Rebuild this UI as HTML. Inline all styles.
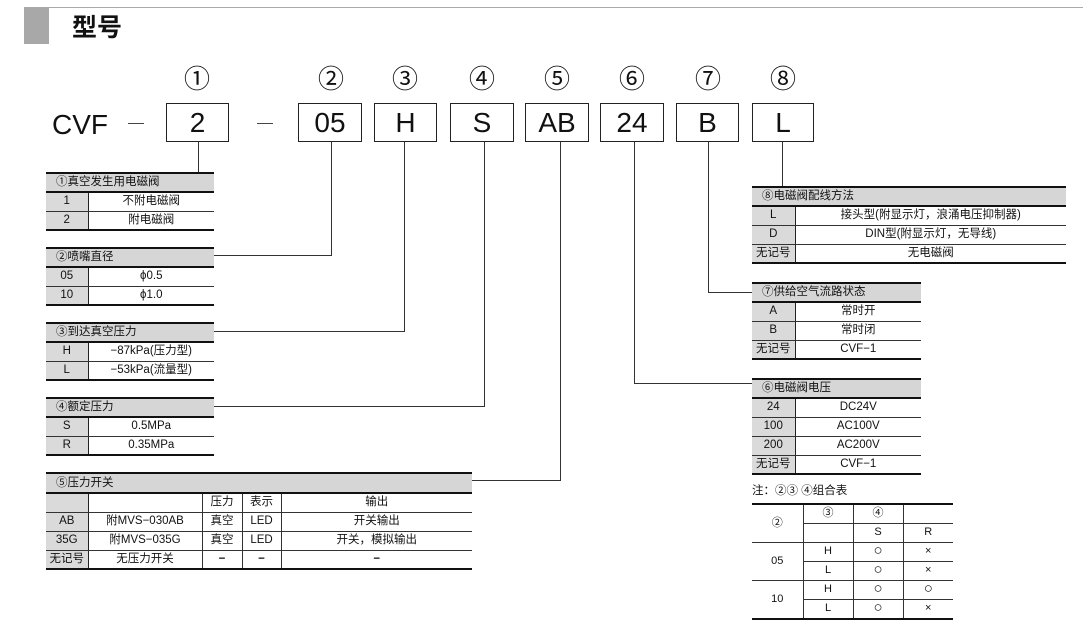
<!DOCTYPE html>
<html><head><meta charset="utf-8"><style>
*{margin:0;padding:0;box-sizing:border-box}
body{width:1083px;height:631px;background:#fff;position:relative;overflow:hidden;font-family:"Liberation Sans","Noto Sans CJK SC",sans-serif;color:#111}
.a{position:absolute}
.box{position:absolute;top:103px;height:39px;border:1.3px solid #222;font-size:28px;text-align:center;line-height:37px}
.c{position:absolute;top:64px;font-size:26px;text-align:center;width:40px;line-height:30px}
.v{position:absolute;width:1.3px;background:#333}
.h{position:absolute;height:1.3px;background:#333}
table{position:absolute;border-collapse:collapse;font-size:11.5px;table-layout:fixed}
td{height:19px;padding:0;text-align:center;border-bottom:1px solid #333;line-height:17px;white-space:nowrap}
tr.hd td{background:#d6d6d6;text-align:left;padding-left:10px;border-top:2.5px solid #111;border-bottom:2.5px solid #111;height:19px}
td.k{background:#dadada;border-right:1.3px solid #222}
tr.last td{border-bottom:2.5px solid #111}
.o{font-size:15px;line-height:16px}
b{font-weight:bold}
</style></head><body>
<div class="a" style="left:49px;top:7px;width:1034px;height:1px;background:#aaa"></div>
<div class="a" style="left:24px;top:7px;width:25px;height:37px;background:#a8a8a8"></div>
<div class="a" style="left:72px;top:12px;font-size:25px;font-weight:bold;line-height:32px">型号</div>

<div class="a" style="left:52px;top:108px;font-size:28px;line-height:34px">CVF</div>
<div class="h" style="left:128px;top:123px;width:16px;background:#444"></div>
<div class="h" style="left:257px;top:123px;width:16px;background:#444"></div>

<div class="c" style="left:177px">①</div>
<div class="c" style="left:311px">②</div>
<div class="c" style="left:385px">③</div>
<div class="c" style="left:462px">④</div>
<div class="c" style="left:537px">⑤</div>
<div class="c" style="left:612px">⑥</div>
<div class="c" style="left:688px">⑦</div>
<div class="c" style="left:763px">⑧</div>

<div class="box" style="left:166px;width:63px">2</div>
<div class="box" style="left:298px;width:64px">05</div>
<div class="box" style="left:374px;width:63px">H</div>
<div class="box" style="left:450px;width:64px">S</div>
<div class="box" style="left:525px;width:64px">AB</div>
<div class="box" style="left:600px;width:64px">24</div>
<div class="box" style="left:676px;width:63px">B</div>
<div class="box" style="left:752px;width:62px">L</div>

<div class="v" style="left:198px;top:142px;height:31px"></div>
<div class="v" style="left:331px;top:142px;height:114px"></div><div class="h" style="left:214px;top:255px;width:118px"></div>
<div class="v" style="left:404px;top:142px;height:190px"></div><div class="h" style="left:214px;top:331px;width:191px"></div>
<div class="v" style="left:484px;top:142px;height:265px"></div><div class="h" style="left:214px;top:406px;width:271px"></div>
<div class="v" style="left:560px;top:142px;height:339px"></div><div class="h" style="left:472px;top:480px;width:89px"></div>
<div class="v" style="left:634px;top:142px;height:242px"></div><div class="h" style="left:634px;top:383px;width:118px"></div>
<div class="v" style="left:708px;top:142px;height:151px"></div><div class="h" style="left:708px;top:292px;width:44px"></div>
<div class="v" style="left:782px;top:142px;height:45px"></div>

<table style="left:46px;top:172px;width:168px"><colgroup><col style="width:42px"><col></colgroup>
<tr class="hd"><td colspan="2">①真空发生用电磁阀</td></tr>
<tr><td class="k">1</td><td>不附电磁阀</td></tr>
<tr class="last"><td class="k">2</td><td>附电磁阀</td></tr></table>

<table style="left:46px;top:247px;width:168px"><colgroup><col style="width:42px"><col></colgroup>
<tr class="hd"><td colspan="2">②喷嘴直径</td></tr>
<tr><td class="k">05</td><td>ϕ0.5</td></tr>
<tr class="last"><td class="k">10</td><td>ϕ1.0</td></tr></table>

<table style="left:46px;top:322px;width:168px"><colgroup><col style="width:42px"><col></colgroup>
<tr class="hd"><td colspan="2">③到达真空压力</td></tr>
<tr><td class="k">H</td><td>−87kPa(压力型)</td></tr>
<tr class="last"><td class="k">L</td><td>−53kPa(流量型)</td></tr></table>

<table style="left:46px;top:397px;width:168px"><colgroup><col style="width:42px"><col></colgroup>
<tr class="hd"><td colspan="2">④额定压力</td></tr>
<tr><td class="k">S</td><td>0.5MPa</td></tr>
<tr class="last"><td class="k">R</td><td>0.35MPa</td></tr></table>

<table style="left:46px;top:472px;width:426px"><colgroup><col style="width:42px"><col style="width:114px"><col style="width:40px"><col style="width:39px"><col></colgroup>
<tr class="hd"><td colspan="5" style="height:20px">⑤压力开关</td></tr>
<tr><td class="k"></td><td style="border-right:1px solid #333"></td><td style="border-right:1px solid #333">压力</td><td style="border-right:1px solid #333">表示</td><td>输出</td></tr>
<tr><td class="k">AB</td><td style="border-right:1px solid #333">附MVS−030AB</td><td style="border-right:1px solid #333">真空</td><td style="border-right:1px solid #333">LED</td><td>开关输出</td></tr>
<tr><td class="k">35G</td><td style="border-right:1px solid #333">附MVS−035G</td><td style="border-right:1px solid #333">真空</td><td style="border-right:1px solid #333">LED</td><td>开关，模拟输出</td></tr>
<tr class="last"><td class="k">无记号</td><td style="border-right:1px solid #333">无压力开关</td><td style="border-right:1px solid #333"><b>−</b></td><td style="border-right:1px solid #333"><b>−</b></td><td><b>−</b></td></tr></table>

<table style="left:752px;top:186px;width:314px"><colgroup><col style="width:43px"><col></colgroup>
<tr class="hd"><td colspan="2">⑧电磁阀配线方法</td></tr>
<tr><td class="k">L</td><td>接头型(附显示灯，浪涌电压抑制器)</td></tr>
<tr><td class="k">D</td><td>DIN型(附显示灯，无导线)</td></tr>
<tr class="last"><td class="k">无记号</td><td>无电磁阀</td></tr></table>

<table style="left:752px;top:282px;width:169px"><colgroup><col style="width:43px"><col></colgroup>
<tr class="hd"><td colspan="2">⑦供给空气流路状态</td></tr>
<tr><td class="k">A</td><td>常时开</td></tr>
<tr><td class="k">B</td><td>常时闭</td></tr>
<tr class="last"><td class="k">无记号</td><td>CVF−1</td></tr></table>

<table style="left:752px;top:378px;width:169px"><colgroup><col style="width:43px"><col></colgroup>
<tr class="hd"><td colspan="2">⑥电磁阀电压</td></tr>
<tr><td class="k">24</td><td>DC24V</td></tr>
<tr><td class="k">100</td><td>AC100V</td></tr>
<tr><td class="k">200</td><td>AC200V</td></tr>
<tr class="last"><td class="k">无记号</td><td>CVF−1</td></tr></table>

<div class="a" style="left:752px;top:483px;font-size:11.5px;line-height:16px">注：②③ ④组合表</div>

<table style="left:752px;top:503px;width:201px;font-size:11px"><colgroup><col style="width:51px"><col style="width:50px"><col style="width:50px"><col></colgroup>
<tr><td rowspan="2" style="border-top:2.5px solid #111;border-right:1px solid #333">②</td><td style="border-top:2.5px solid #111;border-right:1px solid #333">③</td><td style="border-top:2.5px solid #111;border-right:1px solid #333">④</td><td style="border-top:2.5px solid #111"></td></tr>
<tr><td style="border-right:1px solid #333"></td><td style="border-right:1px solid #333">S</td><td>R</td></tr>
<tr><td rowspan="2" style="border-right:1px solid #333">05</td><td style="border-right:1px solid #333">H</td><td style="border-right:1px solid #333"><span class="o">○</span></td><td>×</td></tr>
<tr><td style="border-right:1px solid #333">L</td><td style="border-right:1px solid #333"><span class="o">○</span></td><td>×</td></tr>
<tr><td rowspan="2" style="border-right:1px solid #333;border-bottom:2.5px solid #111">10</td><td style="border-right:1px solid #333">H</td><td style="border-right:1px solid #333"><span class="o">○</span></td><td><span class="o">○</span></td></tr>
<tr class="last"><td style="border-right:1px solid #333">L</td><td style="border-right:1px solid #333"><span class="o">○</span></td><td>×</td></tr></table>
</body></html>
